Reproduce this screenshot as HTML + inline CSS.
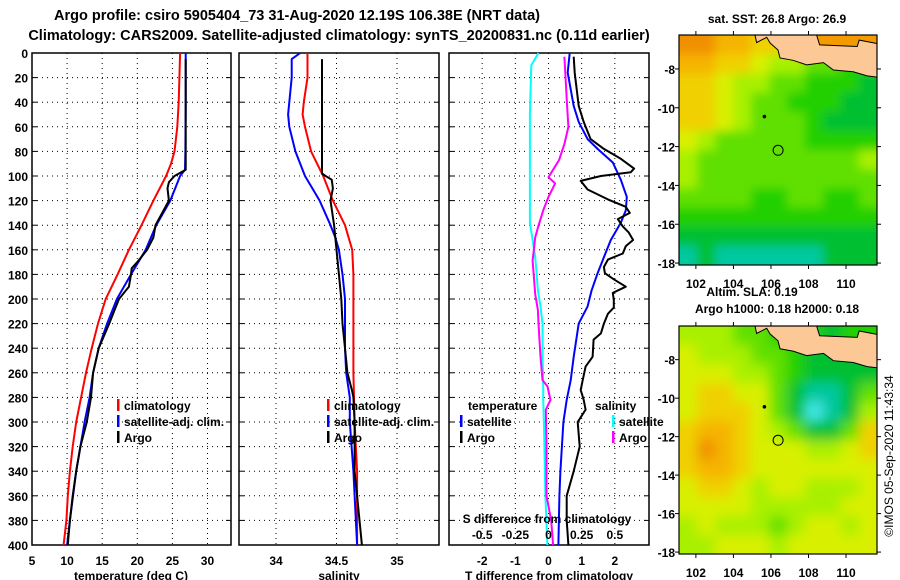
<!DOCTYPE html>
<html><head><meta charset="utf-8">
<style>
html,body{margin:0;padding:0;background:#fff;}
svg{display:block;font-family:"Liberation Sans",sans-serif;}
.t{font-weight:bold;font-size:14.5px;}
.tk{font-weight:bold;font-size:12px;}
</style></head>
<body>
<svg id="c" width="900" height="580" viewBox="0 0 900 580" xmlns="http://www.w3.org/2000/svg">
<text class="t" x="297" y="20" text-anchor="middle">Argo profile: csiro 5905404_73 31-Aug-2020 12.19S 106.38E (NRT data)</text>
<text class="t" x="339" y="40" text-anchor="middle">Climatology: CARS2009. Satellite-adjusted climatology: synTS_20200831.nc (0.11d earlier)</text>
<g id="g"></g>
</svg>
<script>
// ---- data (depth m -> value) ----
const tClimDepth=[0,20,40,60,80,90,100,120,140,160,180,200,220,240,260,280,300,320,340,360,380,400];
const tClimVal=[26.1,26.0,25.9,25.7,25.3,24.8,24.1,22.3,20.6,18.8,17.2,15.5,14.4,13.5,12.7,12.0,11.3,10.8,10.4,10.1,9.9,9.5];
const tSatDepth=[0,40,80,95,100,120,140,160,180,200,220,240,260,280,300,340,380,400];
const tSatVal=[26.9,26.9,26.85,26.8,26.1,24.7,22.7,21.2,19.1,17.1,15.7,14.5,13.7,13.2,12.5,11.3,10.4,10.0];
const tArgoDepth=[5,50,95,100,105,110,120,140,150,160,170,175,180,190,200,210,220,240,260,280,300,320,340,360,380,400];
const tArgoVal=[26.9,26.9,26.9,25.3,24.5,24.3,24.5,22.6,22.3,21.4,20.0,19.2,19.1,18.8,17.4,16.7,16.0,14.5,13.7,13.4,12.8,11.9,11.3,10.8,10.4,10.1];

const sClimDepth=[0,20,40,50,60,80,90,100,110,120,140,160,180,200,260,300,340,400];
const sClimVal=[34.26,34.26,34.23,34.22,34.24,34.29,34.34,34.39,34.43,34.47,34.57,34.63,34.64,34.64,34.64,34.65,34.67,34.67];
const sSatDepth=[0,5,20,40,50,60,80,100,110,120,140,150,160,180,200,240,260,280,300,340,400];
const sSatVal=[34.2,34.13,34.13,34.11,34.1,34.11,34.16,34.24,34.3,34.36,34.45,34.49,34.52,34.55,34.57,34.57,34.58,34.61,34.61,34.64,34.67];
const sArgoDepth=[5,98,100,103,110,120,140,150,160,180,200,220,240,260,275,280,300,340,360,380,400];
const sArgoVal=[34.38,34.38,34.41,34.46,34.47,34.45,34.48,34.49,34.5,34.52,34.54,34.55,34.57,34.59,34.63,34.64,34.65,34.65,34.67,34.69,34.71];

const dSatTDepth=[0,16,43,56,70,78,89,103,117,128,138,152,166,179,193,206,220,247,266,282,300,340,360,400];
const dSatTVal=[0.64,0.58,0.76,0.91,1.18,1.48,1.94,2.18,2.36,2.33,2.18,1.88,1.67,1.48,1.3,1.18,0.91,0.76,0.67,0.55,0.45,0.36,0.33,0.3];
const dArgoTDepth=[3,16,43,56,70,78,86,94,97,100,104,111,119,125,130,135,141,146,152,157,163,168,174,179,184,190,195,201,207,212,220,228,233,247,255,266,274,282,290,300,320,340,360,380,400];
const dArgoTVal=[0.76,0.79,0.91,1.06,1.27,1.67,2.18,2.58,2.48,1.58,0.97,1.18,1.79,2.33,2.45,2.09,2.24,2.42,2.55,2.33,2.24,1.79,1.67,1.7,1.97,2.33,1.94,1.97,1.97,1.79,1.67,1.58,1.36,1.33,1.12,1.03,0.97,1.06,1.12,0.88,0.94,0.76,0.55,0.55,0.6];
const dSatSDepth=[0,10,50,138,152,166,179,193,206,220,247,266,282,300,360,400];
const dSatSVal=[-0.076,-0.13,-0.14,-0.14,-0.12,-0.1,-0.09,-0.08,-0.06,-0.045,-0.045,-0.04,-0.04,-0.035,-0.023,-0.008];
const dArgoSDepth=[3,43,60,74,87,101,106,117,128,142,150,169,182,196,209,220,247,266,271,282,290,320,360,380,400];
const dArgoSVal=[0.12,0.14,0.15,0.12,0.08,0,0.05,0,-0.04,-0.08,-0.1,-0.12,-0.11,-0.1,-0.08,-0.075,-0.06,-0.045,-0.008,0.015,-0.02,-0.015,-0.015,0.02,0.035];

const depthTicks=[0,20,40,60,80,100,120,140,160,180,200,220,240,260,280,300,320,340,360,380,400];
const tTicks=[5,10,15,20,25,30];
const sTicks=[34,34.5,35];
const dTTicks=[-2,-1,0,1,2];
const dSTicks=[-0.5,-0.25,0,0.25,0.5];
const dSTickLabels=["-0.5","-0.25","0","0.25","0.5"];

const sstGrid=[
[8,8,7,7,6,6,6,6,7,8,7],[7,7,6,6,5,4,4,3,3,2,2],[6,6,5,4,4,3,3,2,2,2,1],[6,6,5,4,3,3,2,2,2,1,1],
[6,6,5,4,3,3,3,2,1,1,1],[5,4,3,3,3,3,3,2,2,2,2],[4,3,3,3,3,3,3,3,3,3,4],[4,3,3,3,3,3,3,3,3,3,3],
[3,3,3,3,2,2,3,3,2,2,3],[2,2,2,2,2,2,2,2,2,2,2],[1,1,1,1,1,1,1,1,1,1,1],[0,1,0,0,0,0,0,0,1,1,1]];
const slaGrid=[
[4,4,4,3,3,2,2,2,1,2,2],[5,4,4,4,3,3,2,1,1,1,1],[5,5,5,4,4,3,2,1,1,1,1],[5,6,6,5,5,3,1,0,0,1,3],
[5,6,6,6,5,3,1,9,0,1,4],[6,7,7,6,5,4,3,1,1,3,6],[6,8,7,6,5,5,5,4,4,5,6],[6,7,7,6,5,5,5,5,5,5,5],
[5,6,6,5,4,5,5,4,4,4,5],[5,5,5,5,4,4,4,4,4,5,5],[4,5,4,4,4,3,4,5,5,4,5],[4,4,5,5,5,4,5,5,5,5,5]];
const palette=["#00c8a0","#00c030","#20d000","#60e000","#a8f000","#d8f000","#f0d000","#f5b400","#f09000","#40e8e8"];
const mapLonTicks=[102,104,106,108,110];
const mapLatTicks=[-8,-10,-12,-14,-16,-18];

const NS="http://www.w3.org/2000/svg";
const G=document.getElementById('g');
function mk(tag,attrs,parent){const e=document.createElementNS(NS,tag);for(const k in attrs)e.setAttribute(k,attrs[k]);(parent||G).appendChild(e);return e;}
const yTop=53,yBot=545;
const yD=d=>yTop+(yBot-yTop)*d/400;
function panel(x0,x1,xmin,xmax,name){
  const sx=v=>x0+(x1-x0)*(v-xmin)/(xmax-xmin);
  return {x0,x1,sx,name};
}
function frame(p,vticks){
  const g=mk('g',{});
  
  
  depthTicks.forEach(d=>{ if(d>0&&d<400){const l=mk('line',{x1:p.x0,x2:p.x1,y1:yD(d),y2:yD(d),stroke:'#000','stroke-dasharray':'1,4','stroke-width':1},g);
    
    }
    mk('line',{x1:p.x0,x2:p.x0+5,y1:yD(d),y2:yD(d),stroke:'#000'},g);
    mk('line',{x1:p.x1-5,x2:p.x1,y1:yD(d),y2:yD(d),stroke:'#000'},g);
  });
  vticks.forEach(v=>{const x=p.sx(v); if(x>p.x0+2&&x<p.x1-2){const l=mk('line',{x1:x,x2:x,y1:yTop,y2:yBot,stroke:'#000','stroke-dasharray':'1,4'},g);
    
    }});
  mk('rect',{x:p.x0,y:yTop,width:p.x1-p.x0,height:yBot-yTop,fill:'none',stroke:'#000','stroke-width':1.5},g);
  return g;
}
function line(p,depths,vals,color,name){
  const pts=depths.map((d,i)=>p.sx(vals[i]).toFixed(1)+','+yD(d).toFixed(1)).join(' ');
  const e=mk('polyline',{points:pts,fill:'none',stroke:color,'stroke-width':2,'stroke-linejoin':'round'});
  
  
}
function txt(x,y,s,cls,anchor,name,extra){
  const e=mk('text',Object.assign({x,y,'class':cls,'text-anchor':anchor||'start'},extra||{}));e.textContent=s;
  
  
  return e;
}
function legendItem(x,y,color,label,name){
  mk('rect',{x:x,y:y-11,width:2.5,height:12,fill:color});
  txt(x+7,y,label,'tk','start',name);
}

depthTicks.forEach(d=>txt(28,yD(d)+5,String(d),'tk','end','depth-tick-label'));

const p1=panel(32,231,5,33.35,'temperature');
frame(p1,tTicks);
line(p1,tClimDepth,tClimVal,'#ff0000','temp-climatology-line');
line(p1,tSatDepth,tSatVal,'#0000ff','temp-satellite-line');
line(p1,tArgoDepth,tArgoVal,'#000000','temp-argo-line');
tTicks.forEach(v=>txt(p1.sx(v),565,String(v),'tk','middle','temp-tick-label'));
txt(131,580,'temperature (deg C)','tk','middle','x-axis-title-temperature');
legendItem(117,410,'#ff0000','climatology','legend-climatology');
legendItem(117,426,'#0000ff','satellite-adj. clim.','legend-satellite');
legendItem(117,442,'#000000','Argo','legend-argo');

const p2=panel(239,439,34-37/121,34+163/121,'salinity');
frame(p2,sTicks);
line(p2,sClimDepth,sClimVal,'#ff0000','sal-climatology-line');
line(p2,sSatDepth,sSatVal,'#0000ff','sal-satellite-line');
line(p2,sArgoDepth,sArgoVal,'#000000','sal-argo-line');
sTicks.forEach(v=>txt(p2.sx(v),565,String(v),'tk','middle','sal-tick-label'));
txt(339,580,'salinity','tk','middle','x-axis-title-salinity');
legendItem(327,410,'#ff0000','climatology','legend-climatology-2');
legendItem(327,426,'#0000ff','satellite-adj. clim.','legend-satellite-2');
legendItem(327,442,'#000000','Argo','legend-argo-2');

const p3=panel(449,649,-3,100/33,'difference');
const p3s=panel(449,649,-99/132,100/132,'sdiff');
frame(p3,dTTicks);
line(p3s,dSatSDepth,dSatSVal,'#00ffff','sdiff-satellite-line');
line(p3s,dArgoSDepth,dArgoSVal,'#ff00ff','sdiff-argo-line');
line(p3,dSatTDepth,dSatTVal,'#0000ff','tdiff-satellite-line');
line(p3,dArgoTDepth,dArgoTVal,'#000000','tdiff-argo-line');
dTTicks.forEach(v=>txt(p3.sx(v),565,String(v),'tk','middle','tdiff-tick-label'));
txt(549,580,'T difference from climatology','tk','middle','x-axis-title-tdiff');
txt(547,523,'S difference from climatology','tk','middle','s-diff-title');
dSTicks.forEach((v,i)=>txt(p3s.sx(v),539,dSTickLabels[i],'tk','middle','sdiff-tick-label'));
txt(468,410,'temperature','tk','start','legend-temperature-header');
txt(595,410,'salinity','tk','start','legend-salinity-header');
legendItem(460,426,'#0000ff','satellite','legend-t-satellite');
legendItem(460,442,'#000000','Argo','legend-t-argo');
legendItem(612,426,'#00ffff','satellite','legend-s-satellite');
legendItem(612,442,'#ff00ff','Argo','legend-s-argo');

function drawMap(x0,y0,w,h,grid,name,blur,id,orangeSea){
  const lonMin=101.1,lonMax=111.65,latTop=-6.25,latBot=-18.1;
  const mx=lon=>x0+w*(lon-lonMin)/(lonMax-lonMin);
  const my=lat=>y0+h*(latTop-lat)/(latTop-latBot);
  const g=mk('g',{});
  
  
  const defs=mk('defs',{},g);
  const cp=mk('clipPath',{id:'cp'+id},defs);
  mk('rect',{x:x0,y:y0,width:w,height:h},cp);
  const f=mk('filter',{id:'bl'+id,x:'-10%',y:'-10%',width:'120%',height:'120%'},defs);
  mk('feGaussianBlur',{stdDeviation:blur},f);
  const inner=mk('g',{'clip-path':'url(#cp'+id+')'},g);
  const cells=mk('g',{filter:'url(#bl'+id+')'},inner);
  const rows=grid.length,cols=grid[0].length;
  const cw=w/cols,ch=h/rows;
  for(let r=-1;r<=rows;r++)for(let c=-1;c<=cols;c++){
    const rr=Math.min(rows-1,Math.max(0,r)),cc=Math.min(cols-1,Math.max(0,c));
    const e=mk('rect',{x:x0+c*cw,y:y0+r*ch,width:cw+1,height:ch+1,fill:palette[grid[rr][cc]]},cells);
    
    
  }
  const P=arr=>arr.map(p=>(x0+p[0]*w).toFixed(1)+','+(y0+p[1]*h).toFixed(1)).join(' ');
  if(orangeSea){
    const os=mk('polygon',{points:P([[0.695,0],[0.71,0.043],[0.9,0.05],[0.91,0.022],[1,0.037],[1,0]]),fill:'#f39a00'},inner);
    
    
  }
  const land=[[0.384,0],[0.392,0.033],[0.443,0.01],[0.46,0.035],[0.50,0.065],[0.51,0.1],[0.576,0.11],[0.645,0.13],[0.73,0.12],[0.78,0.152],[0.88,0.16],[0.95,0.178],[1,0.183],[1,0.037],[0.91,0.022],[0.9,0.05],[0.71,0.043],[0.695,0]];
  const lp=mk('polygon',{points:P(land),fill:'#fcc896',stroke:'#000','stroke-width':1},inner);
  
  
  mk('circle',{cx:mx(105.65),cy:my(-10.45),r:1.8,fill:'#000'},inner);
  const ci=mk('circle',{cx:mx(106.38),cy:my(-12.19),r:5,fill:'none',stroke:'#000','stroke-width':1},inner);
  
  
  mk('rect',{x:x0,y:y0,width:w,height:h,fill:'none',stroke:'#000','stroke-width':1.2},g);
  mapLatTicks.forEach(l=>{const y=my(l);
    mk('line',{x1:x0-4,x2:x0,y1:y,y2:y,stroke:'#000'},g);mk('line',{x1:x0+w,x2:x0+w+4,y1:y,y2:y,stroke:'#000'},g);
    txt(x0-4,y+5,String(l),'tk','end','map-lat-label');});
  mapLonTicks.forEach(l=>{const x=mx(l);
    mk('line',{x1:x,x2:x,y1:y0-4,y2:y0,stroke:'#000'},g);mk('line',{x1:x,x2:x,y1:y0+h,y2:y0+h+4,stroke:'#000'},g);});
  return {mx,my};
}
const m1=drawMap(679,35,198,230,sstGrid,'sst-map',5,1,true);
const m2=drawMap(679,326,198,228,slaGrid,'sla-map',6,2,false);
mapLonTicks.forEach(l=>txt(m1.mx(l),288,String(l),'tk','middle','map1-lon-label'));
mapLonTicks.forEach(l=>txt(m2.mx(l),577,String(l),'tk','middle','map2-lon-label'));
txt(777,23,'sat. SST: 26.8 Argo: 26.9','tk','middle','sst-map-title');
txt(752,296,'Altim. SLA: 0.19','tk','middle','sla-map-title');
txt(777,313,'Argo h1000: 0.18 h2000: 0.18','tk','middle','argo-height-title');
txt(0,0,'©IMOS 05-Sep-2020 11:43:34','','middle','timestamp',{transform:'translate(893,456) rotate(-90)','font-size':'12px'});
</script>
</body></html>
